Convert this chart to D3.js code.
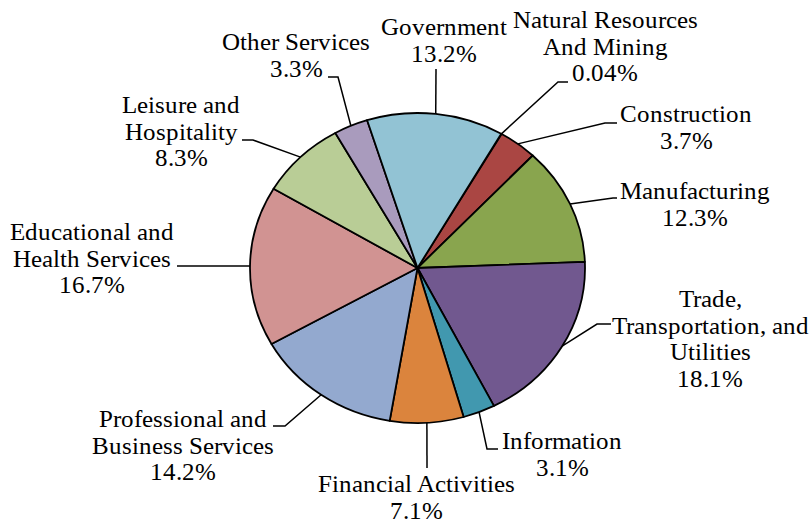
<!DOCTYPE html>
<html><head><meta charset="utf-8">
<script src="https://cdn.jsdelivr.net/npm/d3@7"></script>
<style>
@font-face {
  font-family: "RefSerif";
  src: local("Liberation Serif"), local("LiberationSerif"), local("LiberationSerif-Regular"), local("Liberation Serif Regular"), local("Tinos"), local("Tinos-Regular");
}
.lbl { font-family: "RefSerif", "Liberation Serif", Tinos, "Times New Roman", serif; }
</style>
</head>
<body style="margin:0">
<svg id="chart" width="812" height="523"></svg>
<script>
// ---- data ----
const categories = [
  "Natural Resources And Mining",
  "Construction",
  "Manufacturing",
  "Trade, Transportation, and Utilities",
  "Information",
  "Financial Activities",
  "Professional and Business Services",
  "Educational and Health Services",
  "Leisure and Hospitality",
  "Other Services",
  "Government"
];
const values = [0.04, 3.7, 12.3, 18.1, 3.1, 7.1, 14.2, 16.7, 8.3, 3.3, 13.2];
const labelLines = [
  ["Natural Resources", "And Mining"],
  ["Construction"],
  ["Manufacturing"],
  ["Trade,", "Transportation, and", "Utilities"],
  ["Information"],
  ["Financial Activities"],
  ["Professional and", "Business Services"],
  ["Educational and", "Health Services"],
  ["Leisure and", "Hospitality"],
  ["Other Services"],
  ["Government"]
];
const colors = ["#4572A7", "#AA4643", "#89A54E", "#71588F", "#4198AF", "#DB843D",
                "#93A9CF", "#D19392", "#B9CD96", "#A99BBD", "#92C3D4"];

// ---- layout ----
const cx = 417.5, cy = 268, rx = 167.5, ry = 155;
const startDeg = 30;
const lineH = 26.5;
// label layout: text centre x, first baseline y, leader elbow and end points
const labelLayout = [
  {x: 605, y: 28,  elbow: [558, 82],  end: [568, 82]},
  {x: 686, y: 122, elbow: [605, 123], end: [617, 123]},
  {x: 695, y: 199, elbow: [613, 198], end: [617, 198]},
  {x: 710, y: 307, elbow: [597, 324], end: [611, 324]},
  {x: 562, y: 449, elbow: [487, 449], end: [498, 449]},
  {x: 416, y: 492, elbow: null,        end: [427, 468]},
  {x: 183, y: 427, elbow: [285, 426], end: [273, 426]},
  {x: 92,  y: 240, elbow: null,        end: [177, 266]},
  {x: 181, y: 113, elbow: [253, 140], end: [242, 140]},
  {x: 296, y: 50,  elbow: [338, 77],  end: [328, 77]},
  {x: 444, y: 35,  elbow: null,        end: [436, 69]}
];

const svg = d3.select("#chart");
const start = startDeg * Math.PI / 180;
const pie = d3.pie().sort(null).value(d => d).startAngle(start).endAngle(start + 2 * Math.PI);
const arcs = pie(values);
const arc = d3.arc().innerRadius(0).outerRadius(rx);

const g = svg.append("g").attr("transform", `translate(${cx},${cy}) scale(1,${ry / rx})`);
g.selectAll("path.slice")
  .data(arcs)
  .join("path")
  .attr("class", "slice")
  .attr("d", arc)
  .attr("fill", (d, i) => colors[i])
  .attr("stroke", "#000")
  .attr("stroke-width", 1.8)
  .attr("stroke-linejoin", "round")
  .attr("vector-effect", "non-scaling-stroke");

// leader lines
const lineGen = d3.line();
arcs.forEach((d, i) => {
  const a = (d.startAngle + d.endAngle) / 2;
  const p0 = [cx + rx * Math.sin(a), cy - ry * Math.cos(a)];
  const L = labelLayout[i];
  const pts = [p0];
  if (L.elbow) pts.push(L.elbow);
  pts.push(L.end);
  svg.append("path")
    .attr("d", lineGen(pts))
    .attr("fill", "none")
    .attr("stroke", "#000")
    .attr("stroke-width", 1.5);
});

// labels
const fmt = v => String(v) + "%";
arcs.forEach((d, i) => {
  const L = labelLayout[i];
  const lines = labelLines[i].concat([fmt(values[i])]);
  lines.forEach((s, k) => {
    svg.append("text")
      .attr("class", "lbl")
      .attr("x", L.x)
      .attr("y", L.y + k * lineH)
      .attr("text-anchor", "middle")
      .attr("font-size", 24.5)
      .text(s);
  });
});
</script>
</body>
</html>
